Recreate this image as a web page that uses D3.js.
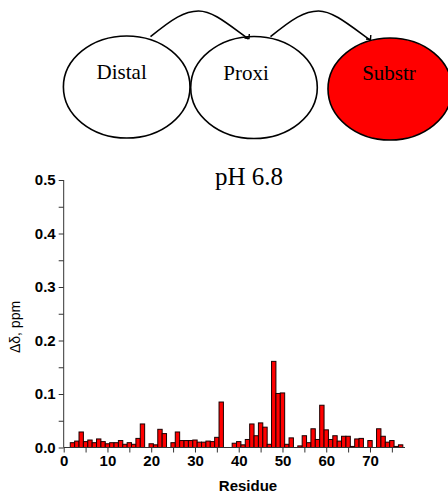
<!DOCTYPE html>
<html>
<head>
<meta charset="utf-8">
<script src="https://cdn.jsdelivr.net/npm/d3@7"></script>
<style>
  html, body { margin: 0; padding: 0; background: #fff; }
  svg { display: block; }
</style>
</head>
<body>
<div id="chart"></div>
<script>
// Residue numbers and chemical shift perturbations (ppm); null = no data
const residues = d3.range(1, 78);
const shifts = [
  null, 0.009, 0.012, 0.029, 0.011, 0.014, 0.009, 0.016, 0.011, 0.007,
  0.009, 0.009, 0.013, 0.006, 0.009, 0.006, 0.017, 0.044, null, 0.007,
  0.005, 0.034, 0.026, null, 0.009, 0.029, 0.013, 0.013, 0.013, 0.014,
  0.010, 0.010, 0.012, 0.011, 0.019, 0.085, null, null, 0.008, 0.011,
  0.005, 0.015, 0.044, 0.022, 0.046, 0.038, 0.006, 0.161, 0.101, 0.102,
  0.006, 0.018, null, 0.003, 0.022, 0.009, 0.035, 0.015, 0.079, 0.033,
  0.015, 0.022, 0.012, 0.021, 0.021, 0.002, 0.016, 0.017, null, 0.013,
  null, 0.035, 0.021, 0.010, 0.013, 0.002, 0.005
];
const xTicks = [0, 10, 20, 30, 40, 50, 60, 70];
const yTicks = [0.0, 0.1, 0.2, 0.3, 0.4, 0.5];

// Domain diagram labels
const domains = ["Distal", "Proxi", "Substr"];
const domainFills = ["#ffffff", "#ffffff", "#ff0000"];

const W = 448, H = 494;
const svg = d3.select("#chart").append("svg")
  .attr("width", W).attr("height", H);

// ---- Domain diagram ----
const ell = [
  {cx: 126.7, cy: 87, rx: 63.3, ry: 51, tx: 121.7, ty: 79},
  {cx: 254, cy: 87.5, rx: 63.3, ry: 51, tx: 246, ty: 80},
  {cx: 390, cy: 89, rx: 62, ry: 51, tx: 389, ty: 80}
];
const g0 = svg.append("g");
g0.selectAll("ellipse").data(domains).join("ellipse")
  .attr("cx", (d, i) => ell[i].cx).attr("cy", (d, i) => ell[i].cy)
  .attr("rx", (d, i) => ell[i].rx).attr("ry", (d, i) => ell[i].ry)
  .attr("fill", (d, i) => domainFills[i])
  .attr("stroke", "#000").attr("stroke-width", 1.6);
g0.selectAll("text").data(domains).join("text")
  .attr("x", (d, i) => ell[i].tx).attr("y", (d, i) => ell[i].ty)
  .attr("text-anchor", "middle")
  .attr("font-family", "'Liberation Serif', 'Times New Roman', serif")
  .attr("font-size", 21).attr("fill", "#000")
  .text(d => d);

// Curved arrows between domains
const arrows = [
  {x0: 150.5, y0: 36.7, xp: 198.5, yp: 11, x1: 248.5, y1: 39},
  {x0: 270.5, y0: 36.7, xp: 318.5, yp: 11, x1: 370, y1: 40}
];
arrows.forEach(a => {
  const p = d3.path();
  p.moveTo(a.x0, a.y0);
  p.bezierCurveTo(a.x0 + 22, a.y0 - 18, a.xp - 14, a.yp, a.xp, a.yp);
  p.bezierCurveTo(a.xp + 14, a.yp, a.x1 - 22, a.y1 - 16, a.x1, a.y1);
  g0.append("path").attr("d", p.toString())
    .attr("fill", "none").attr("stroke", "#000").attr("stroke-width", 1.6);
  g0.append("path")
    .attr("d", `M${a.x1 - 4},${a.y1 - 1} L${a.x1 + 0.5},${a.y1 - 0.5} L${a.x1 + 0.8},${a.y1 - 5}`)
    .attr("fill", "none").attr("stroke", "#000").attr("stroke-width", 1.4);
});

// ---- Bar chart ----
const x = d3.scaleLinear().domain([0, 78]).range([63.7, 405]);
const y = d3.scaleLinear().domain([0, 0.5]).range([447.5, 180]);

svg.append("text")
  .attr("x", 249).attr("y", 184.5)
  .attr("text-anchor", "middle")
  .attr("font-family", "'Liberation Serif', 'Times New Roman', serif")
  .attr("font-size", 25).attr("fill", "#000")
  .text("pH 6.8");

const data = residues.map((r, i) => ({r, v: shifts[i]})).filter(d => d.v != null);
svg.append("g").selectAll("rect").data(data).join("rect")
  .attr("x", d => x(d.r - 0.5))
  .attr("width", d => x(d.r + 0.5) - x(d.r - 0.5))
  .attr("y", d => y(d.v))
  .attr("height", d => y(0) - y(d.v))
  .attr("fill", "#ff0000")
  .attr("stroke", "#1a0000").attr("stroke-width", 1);

const tickFont = "'Liberation Sans', Arial, sans-serif";

// X axis with minor ticks
const xAxisG = svg.append("g").attr("transform", `translate(0,${y(0)})`);
xAxisG.call(d3.axisBottom(x).tickValues(d3.range(0, 80, 5))
  .tickSize(5).tickFormat(d => xTicks.includes(d) ? d : ""))
  .call(g => g.select(".domain").attr("stroke", "#333").attr("d", `M${x(0)},0H${x(78)}`))
  .call(g => g.selectAll(".tick line").attr("stroke", "#333"))
  .call(g => g.selectAll(".tick text")
    .attr("font-family", tickFont).attr("font-weight", "bold")
    .attr("font-size", 15).attr("fill", "#000").attr("dy", "0.95em").attr("y", 4));

// Y axis with minor ticks
const yAxisG = svg.append("g").attr("transform", `translate(${x(0)},0)`);
yAxisG.call(d3.axisLeft(y).tickValues(d3.range(0, 0.501, 0.05))
  .tickSize(5)
  .tickFormat(d => {
    const m = yTicks.find(t => Math.abs(t - d) < 1e-6);
    return m === undefined ? "" : d3.format(".1f")(m);
  }))
  .call(g => g.select(".domain").attr("stroke", "#333").attr("d", `M0,${y(0)}V${y(0.5)}`))
  .call(g => g.selectAll(".tick line").attr("stroke", "#333"))
  .call(g => g.selectAll(".tick text")
    .attr("font-family", tickFont).attr("font-weight", "bold")
    .attr("font-size", 15).attr("fill", "#000").attr("x", -8));

// Axis titles
svg.append("text")
  .attr("x", 248).attr("y", 491)
  .attr("text-anchor", "middle")
  .attr("font-family", tickFont).attr("font-weight", "bold")
  .attr("font-size", 15).attr("fill", "#000")
  .text("Residue");

svg.append("text")
  .attr("transform", "translate(20,327) rotate(-90)")
  .attr("text-anchor", "middle")
  .attr("font-family", tickFont)
  .attr("font-size", 14).attr("fill", "#000")
  .text("Δδ, ppm");
</script>
</body>
</html>
